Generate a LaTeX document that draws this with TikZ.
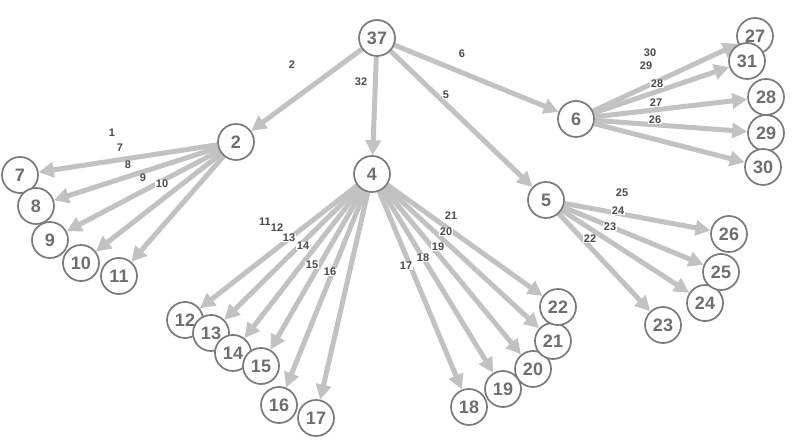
\documentclass[tikz,border=0pt]{standalone}
\usepackage{fontspec}
\setmainfont{Liberation Sans}[BoldFont={Liberation Sans Bold}]
\usetikzlibrary{arrows.meta}
\definecolor{ndgray}{HTML}{7A7A7A}
\definecolor{txtgray}{HTML}{6E6E6E}
\definecolor{edgegray}{HTML}{C2C2C2}
\definecolor{lblgray}{HTML}{4A4A4A}
\pgfdeclarelayer{edgelayer}
\pgfdeclarelayer{labellayer}
\pgfsetlayers{edgelayer,labellayer,main}
\tikzset{
  nd/.style={circle, draw=ndgray, line width=1.7pt, fill=white, minimum size=36pt, inner sep=0pt,
    font=\bfseries\fontsize{18}{18}\selectfont, text=txtgray},
  ed/.style={draw=edgegray, line width=5pt, -{Triangle[length=15pt,width=15pt]}},
  lbl/.style={font=\bfseries\fontsize{11}{11}\selectfont, text=lblgray, fill=white, inner sep=0.4pt}
}
\begin{document}
\begin{tikzpicture}[x=1pt,y=-1pt]
\useasboundingbox (0,0) rectangle (792,443);
% nodes
\node[nd] (n37) at (377,38) {37};
\node[nd] (n2) at (236,142) {2};
\node[nd] (n4) at (372,174) {4};
\node[nd] (n5) at (546,200) {5};
\node[nd] (n6) at (576,119) {6};
\node[nd] (n7) at (20,175) {7};
\node[nd] (n8) at (36,206) {8};
\node[nd] (n9) at (50,240) {9};
\node[nd] (n10) at (81,263) {10};
\node[nd] (n11) at (119,276) {11};
\node[nd] (n12) at (185,320) {12};
\node[nd] (n13) at (211,333) {13};
\node[nd] (n14) at (233,353) {14};
\node[nd] (n15) at (261,366) {15};
\node[nd] (n16) at (279,405) {16};
\node[nd] (n17) at (316,418) {17};
\node[nd] (n18) at (469,407) {18};
\node[nd] (n19) at (503,389) {19};
\node[nd] (n20) at (533,369) {20};
\node[nd] (n21) at (553,341) {21};
\node[nd] (n22) at (558,307) {22};
\node[nd] (n23) at (663,325) {23};
\node[nd] (n24) at (705,303) {24};
\node[nd] (n25) at (721,272) {25};
\node[nd] (n26) at (729,234) {26};
\node[nd] (n27) at (755,36) {27};
\node[nd] (n28) at (766,97) {28};
\node[nd] (n29) at (766,133) {29};
\node[nd] (n30) at (763,167) {30};
\node[nd] (n31) at (747,61) {31};
% edges
\begin{pgfonlayer}{edgelayer}
\foreach \t in {2,4,5,6} {\draw[ed] (n37) -- (n\t);}
\foreach \t in {7,8,9,10,11} {\draw[ed] (n2) -- (n\t);}
\foreach \t in {12,13,14,15,16,17,18,19,20,21,22} {\draw[ed] (n4) -- (n\t);}
\foreach \t in {23,24,25,26} {\draw[ed] (n5) -- (n\t);}
\foreach \t in {27,28,29,30,31} {\draw[ed] (n6) -- (n\t);}
\end{pgfonlayer}
% edge labels
\begin{pgfonlayer}{labellayer}
\node[lbl] (l2) at (292,65) {2};
\node[lbl] (l32) at (361,82) {32};
\node[lbl] (l5) at (446,95) {5};
\node[lbl] (l6) at (462,54) {6};
\node[lbl] (a1) at (112,133) {1};
\node[lbl] (a7) at (120,148) {7};
\node[lbl] (a8) at (128,165) {8};
\node[lbl] (a9) at (143,178) {9};
\node[lbl] (a10) at (162,184) {10};
\node[lbl] (b11) at (265,222) {11};
\node[lbl] (b12) at (277,228) {12};
\node[lbl] (b13) at (289,238) {13};
\node[lbl] (b14) at (303,246) {14};
\node[lbl] (b15) at (312,265) {15};
\node[lbl] (b16) at (330,272) {16};
\node[lbl] (c17) at (406,266) {17};
\node[lbl] (c18) at (423,258) {18};
\node[lbl] (c19) at (438,247) {19};
\node[lbl] (c20) at (446,232) {20};
\node[lbl] (c21) at (451,216) {21};
\node[lbl] (d25) at (622,193) {25};
\node[lbl] (d24) at (618,211) {24};
\node[lbl] (d23) at (610,227) {23};
\node[lbl] (d22) at (590,239) {22};
\node[lbl] (e30) at (650,53) {30};
\node[lbl] (e29) at (646,66) {29};
\node[lbl] (e28) at (657,84) {28};
\node[lbl] (e27) at (656,103) {27};
\node[lbl] (e26) at (655,120) {26};
\end{pgfonlayer}
\end{tikzpicture}
\end{document}
